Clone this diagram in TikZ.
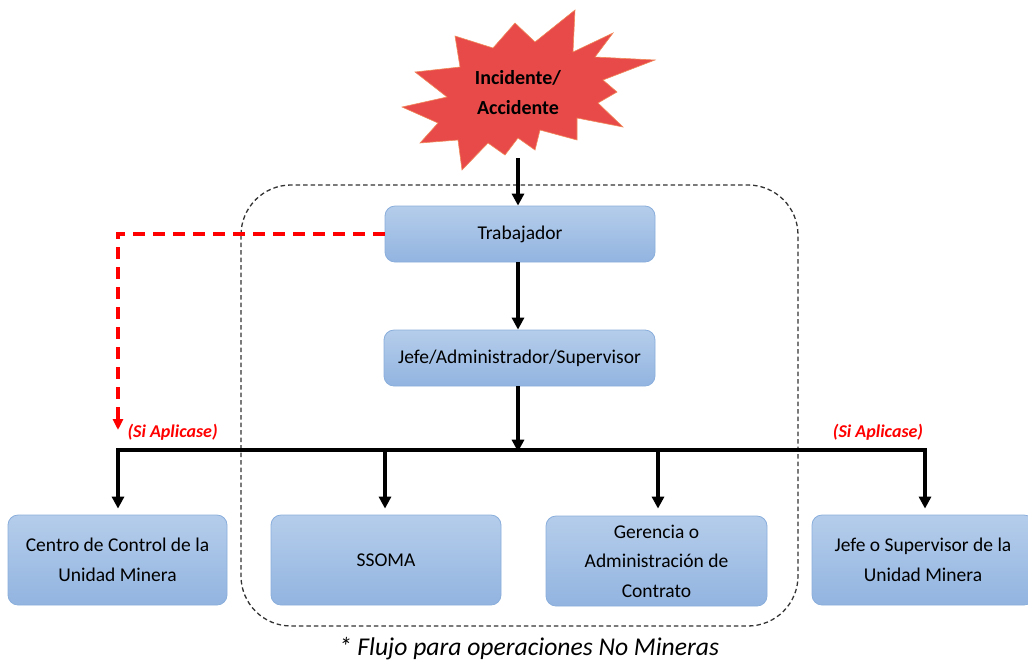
\documentclass[tikz,border=0pt]{standalone}
\usepackage{fontspec}
\setmainfont{Carlito}
\usetikzlibrary{arrows.meta,positioning}
\definecolor{boxtop}{HTML}{B5CDEB}
\definecolor{boxbot}{HTML}{92B4E0}
\definecolor{boxline}{HTML}{8AAEDB}
\definecolor{starred}{HTML}{E84A4A}
\definecolor{starline}{HTML}{F08A5A}
\definecolor{redline}{HTML}{FF0000}
\tikzset{
  bluebox/.style={draw=boxline, line width=0.8pt, rounded corners=10pt,
    top color=boxtop, bottom color=boxbot, align=center,
    font=\fontsize{19.5}{29.5}\selectfont, inner sep=0pt},
  flowarrow/.style={line width=3.3pt, -{Triangle[length=12pt,width=12pt]}},
  busline/.style={line width=3.3pt},
  redarrow/.style={draw=redline, line width=3.4pt, dash pattern=on 12pt off 8pt,
    -{Triangle[length=11pt,width=10pt]}},
  grouprect/.style={draw=black!80, line width=1.3pt, dash pattern=on 4.5pt off 3pt,
    rounded corners=50pt},
  siap/.style={text=redline, font=\fontsize{18}{20}\selectfont\bfseries\itshape},
}
\begin{document}
\begin{tikzpicture}[x=1pt,y=-1pt]
\useasboundingbox (0,0) rectangle (1028,665);
% group rectangle
\draw[grouprect] (241,185) rectangle (798,626);
% starburst
\path[fill=starred, draw=starline, line width=0.6pt]
  (575,10) -- (573,52) -- (613,33) -- (595,57) -- (655,60) -- (603,80)
  -- (617,92) -- (598,103) -- (623,127) -- (577,118) -- (577,140)
  -- (540,130) -- (535,150) -- (518,138) -- (505,155) -- (488,143)
  -- (462,170) -- (458,140) -- (420,143) -- (438,123) -- (402,107)
  -- (447,97) -- (415,72) -- (460,67) -- (455,36) -- (493,48)
  -- (515,23) -- (535,42) -- cycle;
\node[font=\fontsize{20}{30}\selectfont\bfseries, align=center] (inc) at (518,93) {Incidente/\\Accidente};
\coordinate (starbot) at (518,158);
% boxes
\node[bluebox, minimum width=270pt, minimum height=56pt] (trab) at (520,234) {Trabajador};
\node[bluebox, minimum width=271pt, minimum height=56pt] (jefe) at (519.5,358) {Jefe/Administrador/Supervisor};
\node[bluebox, minimum width=219pt, minimum height=90pt] (centro) at (117.5,560) {Centro de Control de la\\Unidad Minera};
\node[bluebox, minimum width=230pt, minimum height=90pt] (ssoma) at (386,560) {SSOMA};
\node[bluebox, minimum width=221pt, minimum height=90pt] (ger) at (656.5,561) {Gerencia o\\Administración de\\Contrato};
\node[bluebox, minimum width=222pt, minimum height=90pt] (jsup) at (923,560) {Jefe o Supervisor de la\\Unidad Minera};
% bus
\coordinate (b1) at (118,450);
\coordinate (b2) at (385,450);
\coordinate (bm) at (518,450);
\coordinate (b3) at (658,450);
\coordinate (b4) at (925,450);
\draw[busline] ([yshift=-1.65pt]b1) -- (b1) -- (b4) -- ([yshift=-1.65pt]b4);
% arrows
\draw[flowarrow] (starbot) -- (trab.north -| starbot);
\draw[flowarrow] (trab.south -| starbot) -- (jefe.north -| starbot);
\draw[flowarrow] (jefe.south -| starbot) -- ([yshift=-1.7pt]bm);
\draw[flowarrow, shorten >=6pt] (b1) -- (b1 |- centro.north);
\draw[flowarrow, shorten >=6pt] (b2) -- (b2 |- ssoma.north);
\draw[flowarrow, shorten >=7pt] (b3) -- (b3 |- ger.north);
\draw[flowarrow, shorten >=6pt] (b4) -- (b4 |- jsup.north);
% red dashed
\coordinate (redcorner) at (118,234);
\coordinate (redend) at (118,430);
\draw[redarrow] (trab.west) -- (redcorner) -- (redend);
\node[siap, anchor=west] (si1) at (124,432) {(Si Aplicase)};
\node[siap] (si2) at (878,432) {(Si Aplicase)};
% caption
\node[font=\fontsize{25.6}{30}\selectfont\itshape] (cap) at (529,649) {* Flujo para operaciones No Mineras};
\end{tikzpicture}
\end{document}
